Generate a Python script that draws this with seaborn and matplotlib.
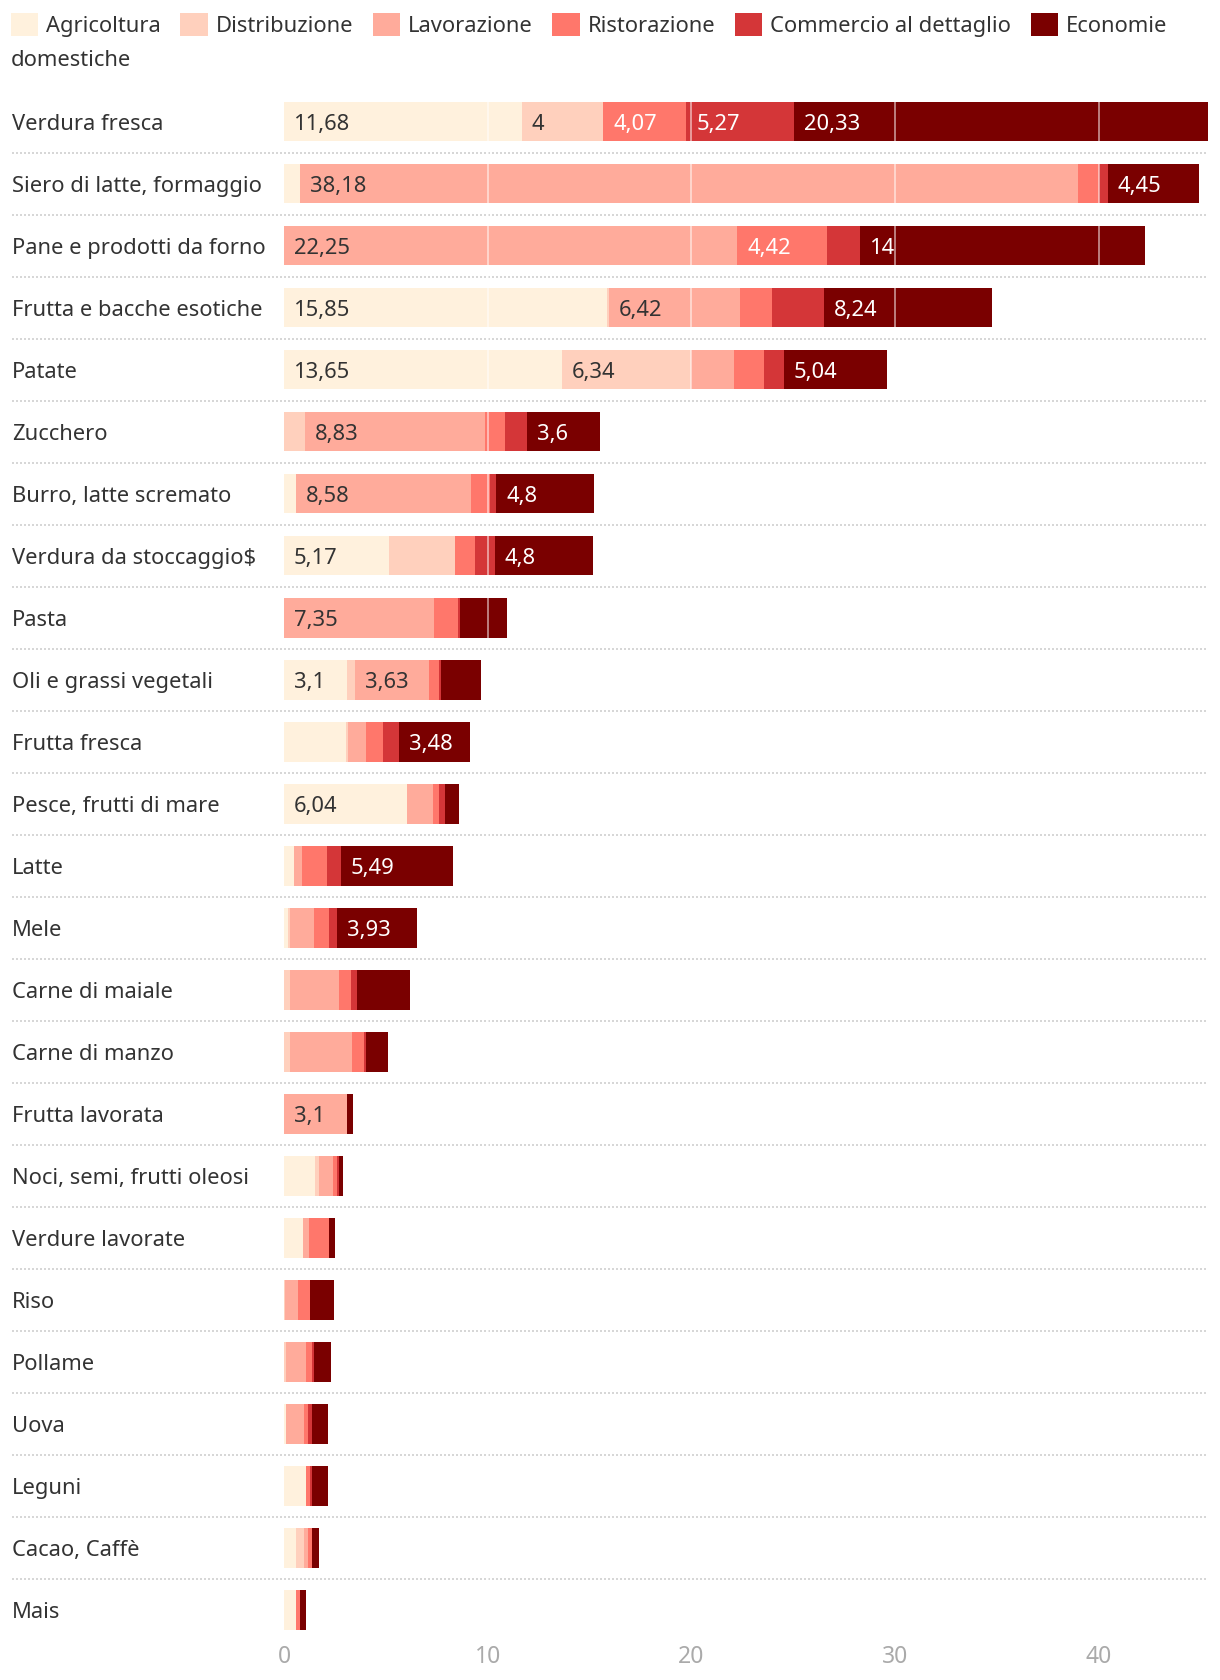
#Stacked horizontal bars: food waste by stage of the supply chain

import numpy as np
import pandas as pd
import seaborn as sns
import matplotlib.pyplot as plt
from matplotlib.patches import Patch

#Data, top to bottom
categories = ["Verdura fresca", "Siero di latte, formaggio", "Pane e prodotti da forno",
              "Frutta e bacche esotiche", "Patate", "Zucchero", "Burro, latte scremato",
              "Verdura da stoccaggio$", "Pasta", "Oli e grassi vegetali", "Frutta fresca",
              "Pesce, frutti di mare", "Latte", "Mele", "Carne di maiale", "Carne di manzo",
              "Frutta lavorata", "Noci, semi, frutti oleosi", "Verdure lavorate", "Riso",
              "Pollame", "Uova", "Leguni", "Cacao, Caffè", "Mais"]
agricoltura = [11.68, 0.8, 0, 15.85, 13.65, 0, 0.59, 5.17, 0, 3.1, 3.04, 6.04, 0.47,
               0.18, 0, 0, 0, 1.54, 0.95, 0, 0, 0.1, 1.07, 0.58, 0.58]
distribuzione = [4, 0, 0, 0.09, 6.34, 1.04, 0, 3.24, 0, 0.39, 0.09, 0, 0, 0.1, 0.28,
                 0.28, 0, 0.19, 0, 0.05, 0.1, 0, 0, 0.39, 0]
lavorazione = [0, 38.18, 22.25, 6.42, 2.11, 8.83, 8.58, 0, 7.35, 3.63, 0.9, 1.26, 0.39,
               1.17, 2.43, 3.08, 3.1, 0.68, 0.29, 0.65, 0.97, 0.88, 0, 0.19, 0]
ristorazione = [4.07, 1.04, 4.42, 1.58, 1.46, 0.98, 0.95, 0.96, 1.19, 0.5, 0.85, 0.3,
                1.26, 0.78, 0.58, 0.58, 0, 0.19, 0.97, 0.58, 0.29, 0.19, 0.19, 0.19, 0.19]
commercio = [5.27, 0.42, 1.58, 2.55, 0.98, 1.06, 0.3, 0.98, 0.09, 0.09, 0.78, 0.28, 0.68,
             0.39, 0.29, 0.1, 0, 0.1, 0, 0, 0.1, 0.19, 0.1, 0, 0]
economie = [20.33, 4.45, 14, 8.24, 5.04, 3.6, 4.8, 4.8, 2.32, 1.95, 3.48, 0.69, 5.49,
            3.93, 2.62, 1.07, 0.29, 0.19, 0.29, 1.17, 0.87, 0.78, 0.78, 0.39, 0.29]

series = ["Agricoltura", "Distribuzione", "Lavorazione", "Ristorazione",
          "Commercio al dettaglio", "Economie domestiche"]
colors = ["#fff1dd", "#ffd0bd", "#ffab9b", "#ff776b", "#d43638", "#7a0000"]
label_colors = ["#333333", "#333333", "#333333", "white", "white", "white"]
ticks = [0, 10, 20, 30, 40]

df = pd.DataFrame({"categoria": categories, "Agricoltura": agricoltura,
                   "Distribuzione": distribuzione, "Lavorazione": lavorazione,
                   "Ristorazione": ristorazione, "Commercio al dettaglio": commercio,
                   "Economie domestiche": economie})
cum = df[series].cumsum(axis=1)

sns.set_theme(style="white")
plt.rcParams["font.family"] = ["Noto Sans", "DejaVu Sans"]
FS = 15.8

W, H = 1220, 1680
fig = plt.figure(figsize=(W / 100, H / 100), dpi=100)
ax_l, ax_r, ax_t, ax_b = 284, 1208, 90.5, 1641
ax = fig.add_axes([ax_l / W, 1 - ax_b / H, (ax_r - ax_l) / W, (ax_b - ax_t) / H])

#stacking: draw cumulative totals from the longest down, each on top of the last
for name, col in reversed(list(zip(series, colors))):
    sns.barplot(x=cum[name], y=df["categoria"], color=col, orient="h", width=0.64,
                saturation=1, linewidth=0, ax=ax)

ax.set_xlim(0, cum[series[-1]].max())
ax.set_ylim(len(categories) - 0.5, -0.5)
sns.despine(ax=ax, left=True, bottom=True)
ax.set_xlabel("")
ax.set_ylabel("")

#light grid lines over the bars
for t in ticks[1:]:
    ax.axvline(t, color="white", alpha=0.5, lw=1.4, zorder=5)

#dotted separators between rows, starting under the labels
xmin = (12 - ax_l) / (ax_r - ax_l)
for i in range(len(categories) - 1):
    ax.axhline(i + 0.5, xmin=xmin, xmax=1, clip_on=False, color="#d0d0d0",
               lw=1.2, ls=(0, (1.2, 1.2)), zorder=0)

ax.set_xticks(ticks)
ax.set_xticklabels([str(t) for t in ticks])
ax.tick_params(axis="x", length=0, pad=3, labelsize=16.5, labelcolor="#aaaaaa")
ax.tick_params(axis="y", length=0, pad=(ax_l - 12) * 0.72, labelsize=FS,
               labelcolor="#333333")
for lab in ax.get_yticklabels():
    lab.set_horizontalalignment("left")

#value labels inside the segments, kept only where they fit
px_per_unit = (ax_r - ax_l) / ax.get_xlim()[1]
texts = []
for j, name in enumerate(series):
    starts = cum[name] - df[name]
    for i, v in enumerate(df[name]):
        if v <= 0:
            continue
        lab = f"{v:g}".replace(".", ",")
        t = ax.text(starts[i] + 10 / px_per_unit, i, lab, va="center_baseline", ha="left",
                    fontsize=FS, color=label_colors[j], zorder=6)
        texts.append((t, v))

fig.canvas.draw()
renderer = fig.canvas.get_renderer()
for t, v in texts:
    if t.get_window_extent(renderer).width + 26 > v * px_per_unit:
        t.remove()

#legend (wraps onto a second line in the original)
handles = [Patch(facecolor=c, edgecolor="none") for c in colors]
leg_labels = series[:-1] + ["Economie"]
fig.legend(handles, leg_labels, loc="upper left", bbox_to_anchor=(10.7 / W, 1 - 13 / H),
           ncol=6, frameon=False, fontsize=FS, handlelength=1.25, handleheight=1.25,
           handletextpad=0.35, columnspacing=0.9, borderaxespad=0, borderpad=0,
           labelcolor="#333333")
fig.text(10.7 / W, 1 - 60 / H, "domestiche", fontsize=FS, color="#333333", va="center")

fig.savefig("out.png", dpi=100)
